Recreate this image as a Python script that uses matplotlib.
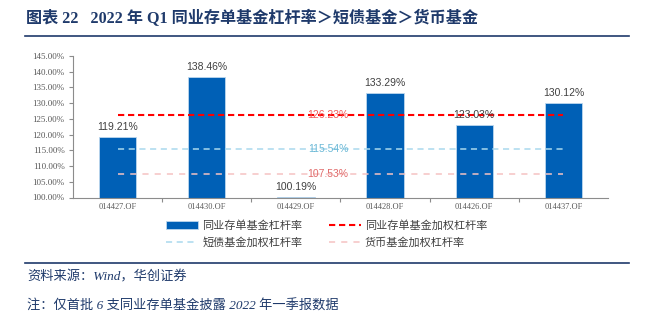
import matplotlib
matplotlib.use("Agg")
import matplotlib.pyplot as plt
from matplotlib.lines import Line2D
from matplotlib.patches import Patch

# ---- data ----
categories = ["014427.OF", "014430.OF", "014429.OF", "014428.OF", "014426.OF", "014437.OF"]
leverage = [119.21, 138.46, 100.19, 133.29, 123.03, 130.12]
ncd_weighted = 126.23
short_bond_weighted = 115.54
money_weighted = 107.53
yticks = [100, 105, 110, 115, 120, 125, 130, 135, 140, 145]

title = "图表 22   2022 年 Q1 同业存单基金杠杆率＞短债基金＞货币基金"
legend_labels = ["同业存单基金杠杆率", "同业存单基金加权杠杆率", "短债基金加权杠杆率", "货币基金加权杠杆率"]
source = "资料来源：Wind，华创证券"
note = "注：仅首批 6 支同业存单基金披露 2022 年一季报数据"

W, H = 652, 323
fig = plt.figure(figsize=(W / 100, H / 100), dpi=100)
navy = "#1F3A6B"
cjk = ["Noto Sans CJK SC", "DejaVu Sans"]
serif_cjk = ["Liberation Serif", "Noto Sans CJK SC"]

ax = fig.add_axes([73 / W, 1 - 197.5 / H, (608 - 73) / W, (197.5 - 56) / H])
x = list(range(len(categories)))
bars = ax.bar(x, [v - 100 for v in leverage], bottom=100, width=0.42, color="#0060B6",
              edgecolor="#BDD7EE", linewidth=0.6, zorder=2)
for xi, v in zip(x, leverage):
    ax.text(xi, v + 1.6, f"{v:.2f}%", ha="center", va="bottom", fontsize=7.5,
            family="Liberation Sans", color="#404040", zorder=5)

xs = [x[0], x[-1]]
ax.plot(xs, [ncd_weighted] * 2, color="#FF0000", lw=1.5, ls=(0, (3, 1.8)), zorder=3)
ax.plot(xs, [short_bond_weighted] * 2, color="#A9D9EE", lw=1.1, ls=(0, (4, 3)), zorder=3)
ax.plot(xs, [money_weighted] * 2, color="#F5C2C2", lw=1.1, ls=(0, (4, 4)), zorder=3)

lx = 2.36
ax.text(lx, ncd_weighted, f"{ncd_weighted:.2f}%", ha="center", va="center", fontsize=7.5,
        family="Liberation Sans", color="#F25A5A", zorder=4)
ax.text(lx, short_bond_weighted, f"{short_bond_weighted:.2f}%", ha="center", va="center", fontsize=7.5,
        family="Liberation Sans", color="#6CB9D6", zorder=4)
ax.text(lx, money_weighted, f"{money_weighted:.2f}%", ha="center", va="center", fontsize=7.5,
        family="Liberation Sans", color="#E06A6A", zorder=4)

ax.set_xlim(-0.5, len(categories) - 0.5)
ax.set_ylim(100, 145)
ax.set_yticks(yticks)
ax.set_yticklabels([f"{t:.2f}%" for t in yticks], family="Liberation Serif", fontsize=6.5, color="#595959")
ax.set_xticks([i + 0.5 for i in x[:-1]], minor=False)
ax.set_xticklabels([])
ax.set_xticks(x, minor=True)
ax.set_xticklabels(categories, minor=True, family="Liberation Serif", fontsize=6.0, color="#595959")
ax.tick_params(axis="x", which="minor", length=0, pad=4)
ax.tick_params(axis="x", which="major", length=3, color="#8C8C8C", direction="out")
ax.tick_params(axis="y", length=3, color="#8C8C8C", direction="out", pad=3)
for s in ["top", "right"]:
    ax.spines[s].set_visible(False)
for s in ["left", "bottom"]:
    ax.spines[s].set_color("#8C8C8C")
    ax.spines[s].set_linewidth(0.8)

handles = [
    Patch(facecolor="#0060B6", edgecolor="#BDD7EE", linewidth=0.6),
    Line2D([], [], color="#FF0000", lw=1.5, ls=(0, (3, 1.8))),
    Line2D([], [], color="#A9D9EE", lw=1.1, ls=(0, (4, 3))),
    Line2D([], [], color="#F5C2C2", lw=1.1, ls=(0, (4, 4))),
]
order = [0, 2, 1, 3]
leg = fig.legend([handles[i] for i in order], [legend_labels[i] for i in order], ncol=2, loc="upper left",
                 bbox_to_anchor=(166 / W, 1 - 220 / H), frameon=False,
                 prop={"family": cjk, "size": 8}, handlelength=2.9, handletextpad=0.35,
                 columnspacing=2.4, labelspacing=0.55, borderpad=0, borderaxespad=0)
for t in leg.get_texts():
    t.set_color("#404040")

# title, rules, footer
fig.text(26 / W, 1 - 19 / H, title, ha="left", va="center", fontsize=11.6, fontweight="bold",
         family=serif_cjk, color=navy)
fig.add_artist(Line2D([25 / W, 629 / W], [1 - 36 / H] * 2, color=navy, lw=1.2))
fig.add_artist(Line2D([25 / W, 629 / W], [1 - 263 / H] * 2, color=navy, lw=1.2))
fig.text(27 / W, 1 - 277 / H, source, ha="left", va="center", fontsize=9.5, style="italic",
         family=serif_cjk, color=navy)
fig.text(27 / W, 1 - 306 / H, note, ha="left", va="center", fontsize=9.5, style="italic",
         family=serif_cjk, color=navy)

fig.savefig("out.png", dpi=100)
